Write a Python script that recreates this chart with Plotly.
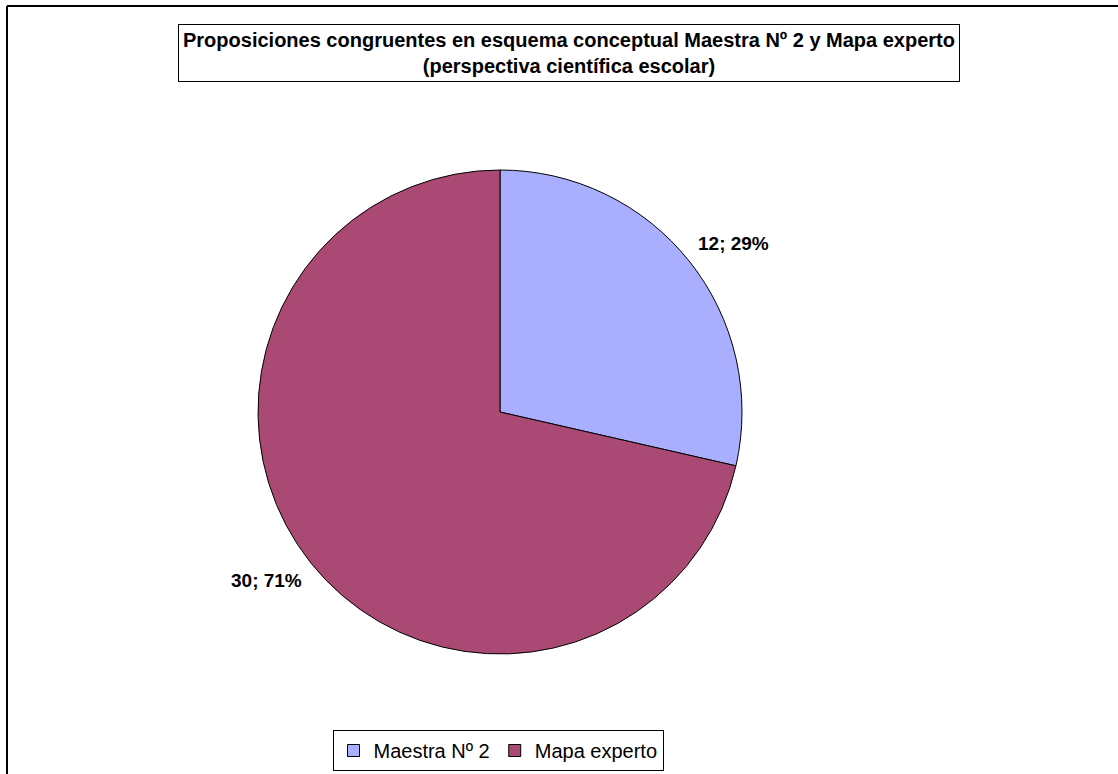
import math
import plotly.graph_objects as go

# Proposiciones congruentes por fuente
categories = ["Maestra Nº 2", "Mapa experto"]
values = [12, 30]
colors = ["#A9AEFF", "#AA4A74"]

title_lines = [
    "Proposiciones congruentes en esquema conceptual Maestra Nº 2 y Mapa experto",
    "(perspectiva científica escolar)",
]

W, H = 1118, 774
FONT = "Liberation Sans, Arial, sans-serif"

# Pie geometry in pixels (centre and radius)
cx, cy, r = 500, 412, 242
dom_x = [(cx - r) / W, (cx + r) / W]
dom_y = [(H - cy - r) / H, (H - cy + r) / H]

fig = go.Figure(
    go.Pie(
        labels=categories,
        values=values,
        sort=False,
        direction="clockwise",
        rotation=0,
        marker=dict(colors=colors, line=dict(color="#000000", width=1)),
        textinfo="none",
        hoverinfo="label+value+percent",
        domain=dict(x=dom_x, y=dom_y),
    )
)

# Data labels "value; percent" placed outside each slice near its mid-angle
total = sum(values)
label_dist = 288      # px from centre
label_turn = math.radians(2.8)
annotations = []
cum = 0.0
for v in values:
    mid = (cum + v / 2) / total * 2 * math.pi + label_turn
    cum += v
    px = cx + label_dist * math.sin(mid)
    py = cy - label_dist * math.cos(mid)
    annotations.append(
        dict(
            x=px / W,
            y=1 - py / H,
            xref="paper",
            yref="paper",
            text=f"<b>{v}; {round(100 * v / total)}%</b>",
            showarrow=False,
            font=dict(family=FONT, size=19, color="#000000"),
            xanchor="center",
            yanchor="middle",
        )
    )

# Boxed title
annotations.append(
    dict(
        x=568.5 / W,
        y=1 - 53 / H,
        xref="paper",
        yref="paper",
        text="<b>" + "<br>".join(title_lines) + "</b>",
        showarrow=False,
        font=dict(family=FONT, size=20, color="#000000"),
        align="center",
        xanchor="center",
        yanchor="middle",
        bordercolor="#000000",
        borderwidth=1,
        borderpad=4,
        bgcolor="#FFFFFF",
    )
)

# Chart-area frame (left and top edges)
shapes = [
    dict(type="line", xref="paper", yref="paper",
         x0=7 / W, x1=7 / W, y0=0, y1=1 - 6 / H,
         line=dict(color="#000000", width=2)),
    dict(type="line", xref="paper", yref="paper",
         x0=7 / W, x1=1, y0=1 - 6 / H, y1=1 - 6 / H,
         line=dict(color="#000000", width=2)),
]

fig.update_layout(
    width=W,
    height=H,
    margin=dict(l=0, r=0, t=0, b=0),
    paper_bgcolor="#FFFFFF",
    plot_bgcolor="#FFFFFF",
    font=dict(family=FONT, color="#000000"),
    annotations=annotations,
    shapes=shapes,
    showlegend=True,
    legend=dict(
        orientation="h",
        x=498 / W,
        xanchor="center",
        y=3 / H,
        yanchor="bottom",
        font=dict(family=FONT, size=20, color="#000000"),
        bordercolor="#000000",
        borderwidth=1,
        bgcolor="#FFFFFF",
        itemwidth=30,
        tracegroupgap=0,
    ),
)

fig.write_html("out.html")
